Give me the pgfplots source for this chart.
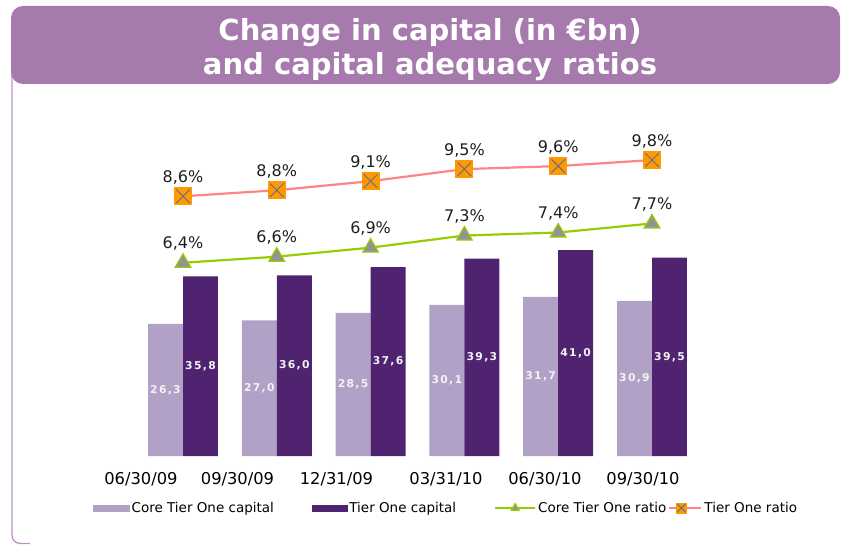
\documentclass[border=0pt]{standalone}
\usepackage{fontspec}
\setmainfont{DejaVu Sans}
\newfontfamily\barfont[LetterSpace=12]{DejaVu Sans}
\usepackage{pgfplots}
\pgfplotsset{compat=1.18}

\definecolor{hdr}{HTML}{A67AAD}
\definecolor{framecol}{HTML}{B796BE}
\definecolor{corecap}{HTML}{B1A1C7}
\definecolor{tiercap}{HTML}{4F2370}
\definecolor{coreline}{HTML}{99CC00}
\definecolor{tierline}{HTML}{FF8585}
\definecolor{tiermark}{HTML}{FF9900}
\definecolor{xcol}{HTML}{5F6A9A}
\definecolor{pctcol}{HTML}{1E1E1E}

% orange square with a crossed X
\pgfdeclareplotmark{sqx}{%
  \pgfpathrectangle{\pgfpoint{-\pgfplotmarksize}{-\pgfplotmarksize}}{\pgfpoint{2\pgfplotmarksize}{2\pgfplotmarksize}}%
  \pgfsetfillcolor{tiermark}\pgfusepath{fill}%
  \pgfsetstrokecolor{xcol}\pgfsetlinewidth{0.9pt}%
  \pgfpathmoveto{\pgfpoint{-0.75\pgfplotmarksize}{-0.75\pgfplotmarksize}}%
  \pgfpathlineto{\pgfpoint{0.75\pgfplotmarksize}{0.75\pgfplotmarksize}}%
  \pgfpathmoveto{\pgfpoint{-0.75\pgfplotmarksize}{0.75\pgfplotmarksize}}%
  \pgfpathlineto{\pgfpoint{0.75\pgfplotmarksize}{-0.75\pgfplotmarksize}}%
  \pgfusepath{stroke}}

\pgfplotsset{
  corelegend/.style={legend image code/.code={%
    \draw[coreline, line width=2pt] (0pt,0pt) -- (40pt,0pt);
    \draw[coreline, line width=1pt, fill=gray!85, mark=triangle*, mark size=4.5pt] plot coordinates {(20pt,0pt)};}},
  tierlegend/.style={legend image code/.code={%
    \path (0pt,0pt);
    \draw[tierline, line width=2pt] (8pt,0pt) -- (40pt,0pt);
    \draw[mark=sqx, mark size=5.5pt] plot coordinates {(20pt,0pt)};}},
}

\pgfplotstableread{
x core tier
0 26.3 35.8
1 27.0 36.0
2 28.5 37.6
3 30.1 39.3
4 31.7 41.0
5 30.9 39.5
}\capital

\pgfplotstableread{
x coreratio tierratio
0 6.4 8.6
1 6.6 8.8
2 6.9 9.1
3 7.3 9.5
4 7.4 9.6
5 7.7 9.8
}\ratios

\begin{document}
\begin{tikzpicture}[x=1pt,y=1pt]
\useasboundingbox (0,0) rectangle (841,544);
% header and frame
\draw[framecol, line width=1.3pt, rounded corners=8pt] (12,470) -- (12,0.6) -- (30,0.6);
\fill[hdr, rounded corners=12pt] (11,460) rectangle (840,538);
\node[text=white, font=\fontsize{29}{34}\selectfont\bfseries, align=center] at (430,494)
  {Change in capital (in €bn)\\and capital adequacy ratios};

% bars
\begin{axis}[
  at={(136.1pt,88pt)}, anchor=south west,
  scale only axis, width=562.8pt, height=336pt,
  xmin=-0.5, xmax=5.5, ymin=0, ymax=66.93,
  axis line style={draw=none}, major tick length=0pt,
  ytick=\empty,
  xtick={-0.448,0.581,1.636,2.804,3.859,4.904},
  xticklabels={06/30/09,09/30/09,12/31/09,03/31/10,06/30/10,09/30/10},
  xticklabel style={font=\fontsize{16.3}{19}\selectfont, text=black, yshift=-13pt},
  ybar, bar width=0.373,
  clip=false,
  visualization depends on=y \as \rawy,
  nodes near coords={\pgfmathprintnumber[fixed,fixed zerofill,precision=1,use comma,assume math mode=true]{\pgfplotspointmeta}},
  every node near coord/.append style={font=\barfont\bfseries\fontsize{10.8}{12}\selectfont,
    text=white!95!black, anchor=center, shift={(axis direction cs:0,-\rawy/2)}},
]
\addplot[fill=corecap, draw=none, bar shift=-0.1866] table[x=x, y=core] {\capital};
\addplot[fill=tiercap, draw=none, bar shift=0.1866] table[x=x, y=tier] {\capital};
\end{axis}

% ratios
\begin{axis}[
  at={(136.1pt,88pt)}, anchor=south west,
  scale only axis, width=562.8pt, height=336pt,
  xmin=-0.5, xmax=5.5, ymin=0, ymax=11.126,
  hide axis, clip=false,
  nodes near coords={\pgfmathprintnumber[fixed,fixed zerofill,precision=1,use comma,assume math mode=true]{\pgfplotspointmeta}\%},
  every node near coord/.append style={font=\fontsize{16}{18}\selectfont, text=pctcol, anchor=south},
  legend columns=4,
  legend cell align=left,
  legend style={at={(-0.0766,-0.1548)}, anchor=west, draw=none, fill=none, inner sep=0pt,
    font=\fontsize{13.5}{16}\selectfont,
    /tikz/column 2/.style={column sep=36pt},
    /tikz/column 4/.style={column sep=36pt},
    /tikz/column 6/.style={column sep=-8pt}},
]
\addlegendimage{legend image code/.code={\fill[corecap] (0pt,-3pt) rectangle (36pt,3pt);}}
\addlegendentry{Core Tier One capital}
\addlegendimage{legend image code/.code={\fill[tiercap] (0pt,-3pt) rectangle (35pt,3pt);}}
\addlegendentry{Tier One capital}
\addplot[coreline, line width=2.2pt, mark=triangle*, mark size=9pt,
  mark options={fill=gray!85, draw=coreline, line width=1.2pt},
  every node near coord/.append style={yshift=8pt}, corelegend]
  table[x=x, y=coreratio] {\ratios};
\addlegendentry{Core Tier One ratio}
\addplot[tierline, line width=2.2pt, mark=sqx, mark size=9pt,
  every node near coord/.append style={yshift=8pt}, tierlegend]
  table[x=x, y=tierratio] {\ratios};
\addlegendentry{Tier One ratio}
\end{axis}
\end{tikzpicture}
\end{document}
